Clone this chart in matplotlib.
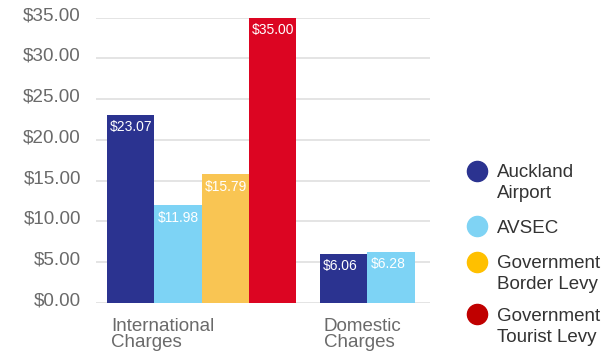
import matplotlib.pyplot as plt
from matplotlib.lines import Line2D
import matplotlib.transforms as mtransforms

plt.rcParams['font.family'] = ['Liberation Sans', 'DejaVu Sans']

# data
groups = ['International\nCharges', 'Domestic\nCharges']
group_start = [0, 4.5]
series = ['Auckland\nAirport', 'AVSEC', 'Government\nBorder Levy', 'Government\nTourist Levy']
values = {
    'Auckland\nAirport': [23.07, 6.06],
    'AVSEC': [11.98, 6.28],
    'Government\nBorder Levy': [15.79, None],
    'Government\nTourist Levy': [35.00, None],
}
bar_colors = ['#2b3390', '#7dd3f5', '#f9c553', '#dc0522']
legend_colors = ['#2b3390', '#7fd3f4', '#ffc000', '#c00000']
yticks = [0, 5, 10, 15, 20, 25, 30, 35]

W, H = 616, 355
fig = plt.figure(figsize=(W / 100, H / 100), dpi=100)
ax = fig.add_axes([96 / W, 1 - 303 / H, (430 - 96) / W, (303 - 17.5) / H])

for si, name in enumerate(series):
    for gi, v in enumerate(values[name]):
        if v is None:
            continue
        x = group_start[gi] + si
        ax.bar(x, v, width=1.0, color=bar_colors[si], zorder=2)
        ax.annotate('$%.2f' % v, (x - 0.5, v), xytext=(2.2, -11.8),
                    textcoords='offset points', ha='left', va='baseline',
                    color='white', fontsize=10, zorder=3)

ax.set_xlim(-0.733, 6.32)
ax.set_ylim(0, 35)
ax.set_yticks(yticks)
ax.set_yticklabels(['$%.2f' % t for t in yticks])
ax.tick_params(axis='y', length=0, pad=10.8, labelsize=13.6, labelcolor='#6a6a6a')
ax.tick_params(axis='x', length=0, labelbottom=False)
offset = mtransforms.ScaledTranslation(0, 4 / 100, fig.dpi_scale_trans)
for lab in ax.get_yticklabels():
    lab.set_transform(lab.get_transform() + offset)
ax.grid(axis='y', color='#e2e2e2', linewidth=1.3)
ax.set_axisbelow(True)
for s in ax.spines.values():
    s.set_visible(False)

# category labels
trans = mtransforms.blended_transform_factory(ax.transData, ax.transAxes)
for gi, g in enumerate(groups):
    ax.text(group_start[gi] - 0.5 + 0.08, -0.052, g, transform=trans,
            ha='left', va='top', fontsize=13.5, color='#6a6a6a', linespacing=0.97)

# legend
legend_y = [170.5, 226, 261.7, 314.3]
for si, name in enumerate(series):
    cy = legend_y[si]
    fig.add_artist(Line2D([477 / W], [1 - cy / H], marker='o', markersize=14.5,
                          color=legend_colors[si], linestyle='none'))
    for li, line in enumerate(name.split('\n')):
        fig.text(497 / W, 1 - (cy + 6.8 + li * 20.5) / H, line, ha='left',
                 va='baseline', fontsize=13.5, color='#333333')

fig.savefig('out.png', dpi=100)
